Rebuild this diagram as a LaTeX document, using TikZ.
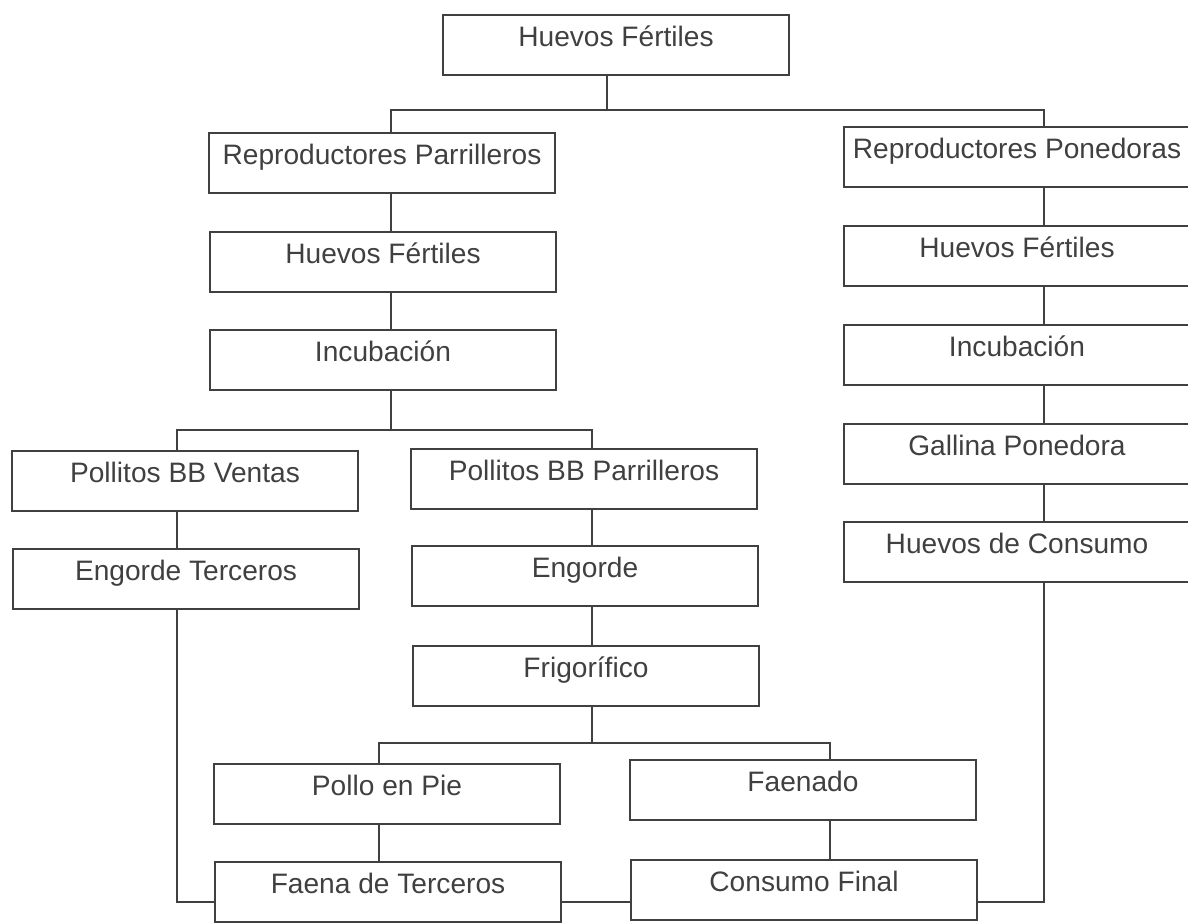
\documentclass[tikz,border=0pt]{standalone}
\usepackage{fontspec}
\setmainfont{Liberation Sans}

\begin{document}
\begin{tikzpicture}[x=0.025cm, y=-0.025cm,
  etapa/.style={draw=black!75, line width=1.5pt, text=black!75, minimum width=8.65cm,
    inner ysep=0pt, text height=0.78cm, text depth=0.72cm, font=\fontsize{20}{24}\selectfont},
  linea/.style={draw=black!75, line width=1.5pt}]
  \useasboundingbox (0,0) rectangle (1188,924);

  \node[etapa] (HuevosTop) at (616,45) {Huevos Fértiles};
  \node[etapa] (RepParrilleros) at (382,163) {Reproductores Parrilleros};
  \node[etapa] (RepPonedoras) at (1017,157) {Reproductores Ponedoras};
  \node[etapa] (HuevosPar) at (383,262) {Huevos Fértiles};
  \node[etapa] (HuevosPon) at (1017,256) {Huevos Fértiles};
  \node[etapa] (IncubPar) at (383,360) {Incubación};
  \node[etapa] (IncubPon) at (1017,355) {Incubación};
  \node[etapa] (Gallina) at (1017,454) {Gallina Ponedora};
  \node[etapa] (HuevosConsumo) at (1017,552) {Huevos de Consumo};
  \node[etapa] (PollitosVentas) at (185,481) {Pollitos BB Ventas};
  \node[etapa] (EngordeTerceros) at (186,579) {Engorde Terceros};
  \node[etapa] (PollitosPar) at (584,479) {Pollitos BB Parrilleros};
  \node[etapa] (Engorde) at (585,576) {Engorde};
  \node[etapa] (Frigorifico) at (586,676) {Frigorífico};
  \node[etapa] (PolloPie) at (387,794) {Pollo en Pie};
  \node[etapa] (Faenado) at (803,790) {Faenado};
  \node[etapa] (FaenaTerceros) at (388,892) {Faena de Terceros};
  \node[etapa] (ConsumoFinal) at (804,890) {Consumo Final};

  \coordinate (colTop) at (607,0);
  \coordinate (colA) at (391,0);
  \coordinate (colR) at (1044,0);
  \coordinate (colV) at (177,0);
  \coordinate (colP) at (592,0);
  \coordinate (colPie) at (379,0);
  \coordinate (colFa) at (830,0);
  \coordinate (bus1) at (0,110);
  \coordinate (bus2) at (0,430);
  \coordinate (bus3) at (0,743);
  \coordinate (bus4) at (0,902);

  \draw[linea] (HuevosTop.south -| colTop) -- (bus1 -| colTop);
  \draw[linea] (RepParrilleros.north -| colA) |- (bus1 -| colR) -- (RepPonedoras.north -| colR);

  \draw[linea] (RepParrilleros.south -| colA) -- (HuevosPar.north -| colA);
  \draw[linea] (HuevosPar.south -| colA) -- (IncubPar.north -| colA);
  \draw[linea] (IncubPar.south -| colA) -- (bus2 -| colA);
  \draw[linea] (PollitosVentas.north -| colV) |- (bus2 -| colP) -- (PollitosPar.north -| colP);

  \draw[linea] (RepPonedoras.south -| colR) -- (HuevosPon.north -| colR);
  \draw[linea] (HuevosPon.south -| colR) -- (IncubPon.north -| colR);
  \draw[linea] (IncubPon.south -| colR) -- (Gallina.north -| colR);
  \draw[linea] (Gallina.south -| colR) -- (HuevosConsumo.north -| colR);
  \draw[linea] (HuevosConsumo.south -| colR) |- (ConsumoFinal.east |- bus4);

  \draw[linea] (PollitosVentas.south -| colV) -- (EngordeTerceros.north -| colV);
  \draw[linea] (EngordeTerceros.south -| colV) |- (FaenaTerceros.west |- bus4);

  \draw[linea] (PollitosPar.south -| colP) -- (Engorde.north -| colP);
  \draw[linea] (Engorde.south -| colP) -- (Frigorifico.north -| colP);
  \draw[linea] (Frigorifico.south -| colP) -- (bus3 -| colP);
  \draw[linea] (PolloPie.north -| colPie) |- (bus3 -| colFa) -- (Faenado.north -| colFa);

  \draw[linea] (PolloPie.south -| colPie) -- (FaenaTerceros.north -| colPie);
  \draw[linea] (Faenado.south -| colFa) -- (ConsumoFinal.north -| colFa);
  \draw[linea] (FaenaTerceros.east |- bus4) -- (ConsumoFinal.west |- bus4);
\end{tikzpicture}
\end{document}
